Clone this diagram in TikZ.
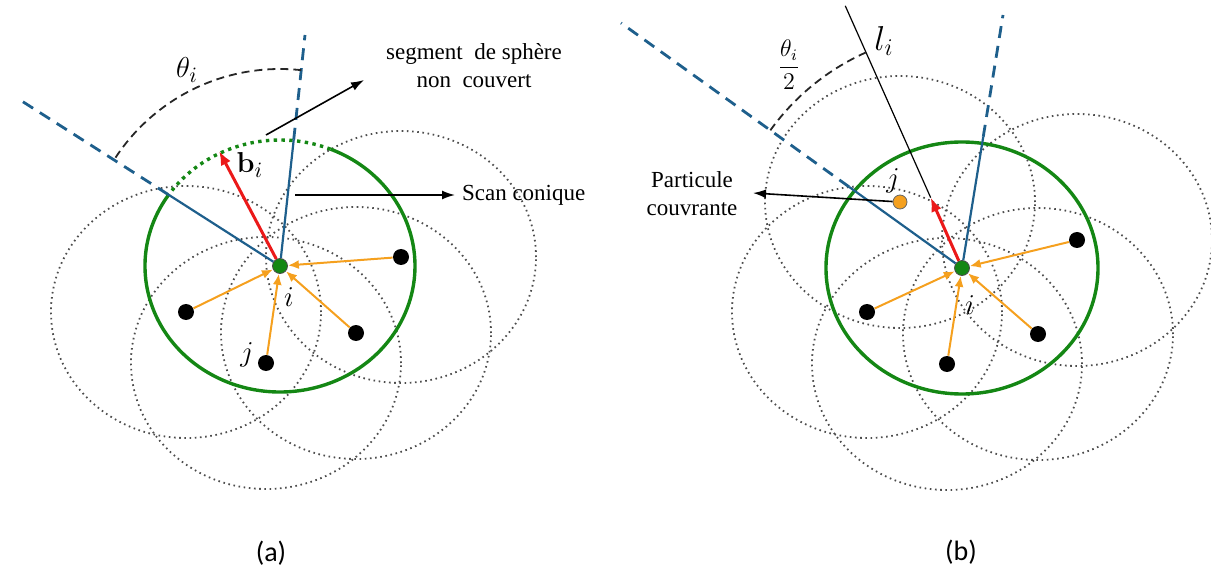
\documentclass[tikz,border=0pt]{standalone}
\usepackage{amsmath}
\usepackage[no-math]{fontspec}
\setmainfont{Liberation Serif}
\newfontfamily\notefont{Liberation Serif}
\newfontfamily\capfont{Carlito}
\usetikzlibrary{shapes,arrows.meta,backgrounds,calc}
\definecolor{sphgreen}{RGB}{20,135,20}
\definecolor{conblue}{RGB}{30,95,140}
\definecolor{nborange}{RGB}{245,160,30}
\definecolor{bisred}{RGB}{235,25,25}
\tikzstyle{hub} = [draw=black!70, fill=sphgreen, circle, inner sep=0pt, minimum size=7.5pt]
\tikzstyle{particle} = [fill=black, circle, inner sep=0pt, minimum size=8pt]
\tikzstyle{coverer} = [draw=black!60, fill=nborange, circle, inner sep=0pt, minimum size=7pt]
\tikzstyle{reach} = [draw=black!70, line width=0.9pt, dash pattern=on 0.8pt off 1.8pt]
\tikzstyle{sphere} = [draw=sphgreen, line width=1.7pt]
\tikzstyle{cone} = [draw=conblue, line width=1.1pt]
\tikzstyle{conedash} = [draw=conblue, line width=1.4pt, dash pattern=on 6pt off 4pt]
\tikzstyle{link} = [draw=nborange, line width=1pt, -{Latex[length=5.5pt, width=4.5pt]}]
\tikzstyle{bisector} = [draw=bisred, line width=1.5pt, -{Latex[length=7pt, width=5.5pt]}]
\tikzstyle{pointer} = [draw=black, line width=0.8pt, -{Latex[length=6.5pt, width=4.5pt]}]
\tikzstyle{anglearc} = [draw=black!85, line width=0.9pt, dash pattern=on 4pt off 2.5pt]
\tikzstyle{note} = [font=\notefont\fontsize{11.5}{14}\selectfont, align=center]
\tikzstyle{lbl} = [font=\fontsize{15}{17}\selectfont]
\tikzstyle{caption} = [font=\capfont\fontsize{14}{16}\selectfont]

\begin{document}
\begin{tikzpicture}[x=0.5pt, y=0.5pt]
    \useasboundingbox (0,0) rectangle (1211,574);

    % ---- (a) cone scan around particle i
    \node [hub] (ci) at (280,308) {};
    \node [particle] (a1) at (401,317) {};
    \node [particle] (a2) at (186,262) {};
    \node [particle] (a3) at (356,241) {};
    \node [particle] (a4) at (266,211) {};

    \begin{scope}[on background layer]
        \foreach \p in {a1,a2,a3,a4}
            \draw [reach] (\p) ellipse [x radius=135, y radius=126];
        \draw [sphere] (ci.center) ++(146:135 and 126)
            arc [start angle=146, end angle=428, x radius=135, y radius=126];
        \draw [sphere, dash pattern=on 1.7pt off 2.2pt] (ci.center) ++(68:135 and 126)
            arc [start angle=68, end angle=146, x radius=135, y radius=126];
    \end{scope}

    \coordinate (aL) at ($(ci)+(147.4:133)$);
    \coordinate (aLtip) at (17,476);
    \coordinate (aT) at ($(ci)+(83.8:127)$);
    \coordinate (aTtip) at (305,539);
    \coordinate (bA) at ($(ci)+(117.9:130)$);

    \draw [cone] (ci) -- (aL);
    \draw [conedash] (aL) -- (aLtip);
    \draw [cone] (ci) -- (aT);
    \draw [conedash] (aT) -- (aTtip);
    \draw [anglearc] ($(ci)+(83.8:197)$) arc [start angle=83.8, end angle=147.4, radius=197];
    \draw [bisector] (ci) -- (bA);
    \foreach \p in {a1,a2,a3,a4}
        \draw [link] (\p) -- (ci);

    \node [lbl] (thA) at (187,504) {$\theta_i$};
    \node [lbl] (bAl) at (250,409) {$\mathbf{b}_i$};
    \node [lbl] (jA) at (247,219) {$j$};
    \node [lbl] (iA) at (289,277) {$i$};

    \node [note] (seg) at (474,508) {segment\ \ de sphère\\non\ \ couvert};
    \coordinate (segfoot) at (266,439);
    \coordinate (segtip) at (364,494);
    \draw [pointer] (segfoot) -- (segtip);
    \node [note, anchor=west] (scan) at (455,379) {Scan conique};
    \coordinate (scanfoot) at (295,379);
    \draw [pointer] (scanfoot) -- (scan.west);

    \node [caption] (capA) at (271,21) {(a)};

    % ---- (b) bisector and covering particle
    \node [hub] (cb) at (962,306) {};
    \node [coverer] (bj) at (900,372) {};
    \node [particle] (b1) at (1077,334) {};
    \node [particle] (b2) at (867,262) {};
    \node [particle] (b3) at (1038,240) {};
    \node [particle] (b4) at (947,210) {};

    \begin{scope}[on background layer]
        \foreach \p in {bj,b1,b2,b3,b4}
            \draw [reach] (\p) ellipse [x radius=135, y radius=126];
        \draw [sphere] (cb.center) ellipse [x radius=136, y radius=126];
    \end{scope}

    \coordinate (bL) at ($(cb)+(144.3:139)$);
    \coordinate (bLtip) at (621,551);
    \coordinate (bT) at ($(cb)+(80.8:133)$);
    \coordinate (bTtip) at (1003,559);
    \coordinate (lfoot) at ($(cb)+(114:77)$);
    \coordinate (ltop) at ($(cb)+(114:287)$);

    \draw [cone] (cb) -- (bL);
    \draw [conedash] (bL) -- (bLtip);
    \draw [cone] (cb) -- (bT);
    \draw [conedash] (bT) -- (bTtip);
    \draw [black, line width=0.6pt] (lfoot) -- (ltop);
    \draw [anglearc] ($(cb)+(114:236)$) arc [start angle=114, end angle=144.3, radius=236];
    \draw [bisector] (cb) -- (lfoot);
    \foreach \p in {b1,b2,b3,b4}
        \draw [link] (\p) -- (cb);

    \node [lbl, font=\fontsize{17}{19}\selectfont] (lB) at (884,533) {$l_i$};
    \node [lbl, font=\fontsize{12}{14}\selectfont] (thB) at (789,509) {$\dfrac{\theta_i}{2}$};
    \node [lbl] (jB) at (893,393) {$j$};
    \node [lbl] (iB) at (970,269) {$i$};

    \node [note] (pc) at (692,380) {Particule\\couvrante};
    \coordinate (pctip) at (753,381);
    \draw [pointer] (bj) -- (pctip);

    \node [caption] (capB) at (961,22) {(b)};
\end{tikzpicture}
\end{document}
